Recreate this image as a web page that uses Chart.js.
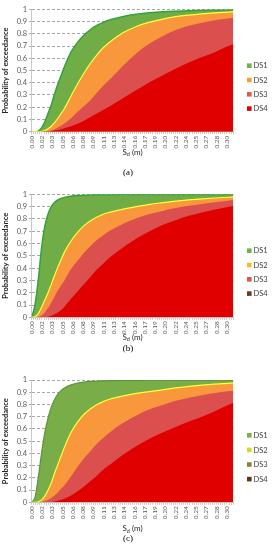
<!DOCTYPE html>
<html><head><meta charset="utf-8">
<script src="https://cdn.jsdelivr.net/npm/chart.js@4.4.1/dist/chart.umd.min.js"></script>
<style>
html,body{margin:0;padding:0;background:#fff;width:275px;height:550px;overflow:hidden;position:relative}
canvas{position:absolute;left:0}
</style></head><body>
<canvas id="ca" width="275" height="185" style="top:0px;width:275px;height:185px"></canvas>
<canvas id="cb" width="275" height="180" style="top:185px;width:275px;height:180px"></canvas>
<canvas id="cc" width="275" height="185" style="top:365px;width:275px;height:185px"></canvas>
<script>
// ---- data ----
const sd = [0, 0.005, 0.01, 0.015, 0.02, 0.025, 0.03, 0.035, 0.04, 0.045, 0.05, 0.06, 0.07, 0.08, 0.09, 0.10, 0.11, 0.12, 0.14, 0.16, 0.18, 0.20, 0.22, 0.24, 0.26, 0.28, 0.30, 0.308];
const dsNames = ['DS1', 'DS2', 'DS3', 'DS4'];
const xTickLabels = ['0.00','0.02','0.03','0.05','0.06','0.08','0.09','0.11','0.13','0.14','0.16','0.17','0.19','0.20','0.22','0.24','0.25','0.27','0.28','0.30'];
const xTickStep = 0.0157;
const yTickLabels = ['0','0.1','0.2','0.3','0.4','0.5','0.6','0.7','0.8','0.9','1'];

const a_DS1 = [0, 0, 0.005, 0.03, 0.08, 0.15, 0.22, 0.31, 0.39, 0.46, 0.53, 0.65, 0.73, 0.79, 0.835, 0.87, 0.895, 0.915, 0.942, 0.96, 0.972, 0.98, 0.985, 0.989, 0.992, 0.994, 0.995, 0.996];
const a_DS2 = [0, 0, 0, 0.003, 0.01, 0.025, 0.045, 0.075, 0.11, 0.15, 0.19, 0.29, 0.39, 0.48, 0.56, 0.63, 0.69, 0.735, 0.81, 0.86, 0.895, 0.92, 0.94, 0.953, 0.963, 0.971, 0.977, 0.979];
const a_DS3 = [0, 0, 0, 0.001, 0.002, 0.004, 0.01, 0.02, 0.035, 0.05, 0.068, 0.11, 0.16, 0.21, 0.26, 0.32, 0.38, 0.43, 0.54, 0.64, 0.72, 0.78, 0.83, 0.865, 0.89, 0.91, 0.925, 0.93];
const a_DS4 = [0, 0, 0, 0, 0.001, 0.003, 0.006, 0.01, 0.014, 0.02, 0.028, 0.045, 0.065, 0.09, 0.12, 0.15, 0.18, 0.21, 0.275, 0.34, 0.405, 0.46, 0.515, 0.565, 0.61, 0.65, 0.7, 0.715];

const b_DS1 = [0, 0.1, 0.3, 0.56, 0.74, 0.84, 0.9, 0.935, 0.955, 0.967, 0.975, 0.985, 0.99, 0.993, 0.995, 0.996, 0.997, 0.997, 0.998, 0.998, 0.999, 0.999, 0.999, 0.999, 0.999, 0.999, 0.999, 0.999];
const b_DS2 = [0, 0.005, 0.03, 0.08, 0.14, 0.2, 0.27, 0.34, 0.41, 0.47, 0.53, 0.62, 0.69, 0.745, 0.785, 0.815, 0.84, 0.855, 0.88, 0.9, 0.918, 0.932, 0.945, 0.955, 0.963, 0.97, 0.976, 0.978];
const b_DS3 = [0, 0, 0.005, 0.015, 0.04, 0.075, 0.12, 0.17, 0.22, 0.26, 0.3, 0.39, 0.46, 0.525, 0.58, 0.63, 0.67, 0.705, 0.76, 0.805, 0.84, 0.865, 0.888, 0.906, 0.922, 0.936, 0.948, 0.953];
const b_DS4 = [0, 0, 0, 0, 0.002, 0.005, 0.012, 0.025, 0.04, 0.06, 0.085, 0.15, 0.21, 0.27, 0.33, 0.39, 0.44, 0.49, 0.57, 0.64, 0.7, 0.75, 0.79, 0.825, 0.853, 0.877, 0.897, 0.905];

const c_DS1 = [0, 0.04, 0.2, 0.4, 0.57, 0.69, 0.78, 0.84, 0.885, 0.915, 0.935, 0.96, 0.975, 0.983, 0.988, 0.991, 0.993, 0.995, 0.996, 0.997, 0.998, 0.998, 0.999, 0.999, 0.999, 0.999, 0.999, 0.999];
const c_DS2 = [0, 0, 0.005, 0.02, 0.05, 0.1, 0.16, 0.24, 0.31, 0.38, 0.45, 0.57, 0.655, 0.72, 0.765, 0.8, 0.825, 0.845, 0.87, 0.89, 0.905, 0.92, 0.935, 0.948, 0.958, 0.966, 0.973, 0.975];
const c_DS3 = [0, 0, 0, 0.003, 0.01, 0.02, 0.035, 0.055, 0.08, 0.11, 0.14, 0.21, 0.29, 0.36, 0.42, 0.48, 0.53, 0.575, 0.65, 0.71, 0.76, 0.795, 0.83, 0.855, 0.875, 0.893, 0.908, 0.912];
const c_DS4 = [0, 0, 0, 0, 0, 0, 0.003, 0.007, 0.012, 0.02, 0.03, 0.055, 0.09, 0.13, 0.175, 0.22, 0.27, 0.31, 0.39, 0.46, 0.52, 0.57, 0.615, 0.66, 0.7, 0.745, 0.795, 0.815];

// ---- drawing ----
const FONT = 'Lato, "Open Sans", "Liberation Sans", sans-serif';
Chart.defaults.font.family = FONT;

const minorTicks = [];
for (let k = 0; k * xTickStep / 5 <= 0.3078; k++) minorTicks.push(k * xTickStep / 5);

const deco = {
  id: 'deco',
  afterDraw(chart, args, o) {
    const ctx = chart.ctx, ca = chart.chartArea;
    ctx.save();
    ctx.textBaseline = 'middle';
    ctx.fillStyle = '#262626';
    const f1 = '8px ' + FONT, f2 = '5.5px ' + FONT;
    ctx.font = f1; const wS = ctx.measureText('S').width, wR = ctx.measureText(' (m)').width;
    ctx.font = f2; const wd = ctx.measureText('d').width;
    let x = (ca.left + ca.right) / 2 - (wS + wd + wR) / 2;
    ctx.textAlign = 'left';
    ctx.font = f1; ctx.fillText('S', x, o.titleY); x += wS;
    ctx.font = f2; ctx.fillText('d', x, o.titleY + 2); x += wd;
    ctx.font = f1; ctx.fillText(' (m)', x, o.titleY);
    ctx.font = '9px "Liberation Serif", serif'; ctx.textAlign = 'center'; ctx.fillStyle = '#000';
    ctx.fillText(o.panel, 128, o.panelY);
    ctx.font = '7.5px ' + FONT; ctx.textAlign = 'left';
    chart.data.datasets.forEach((d, i) => {
      const y = o.legY0 + i * o.legDY;
      ctx.fillStyle = o.legColors[i];
      ctx.fillRect(247, y - 2.3, 4.6, 4.6);
      ctx.fillStyle = '#404040';
      ctx.fillText(d.label, 253.5, y + 0.3);
    });
    ctx.restore();
  }
};

function makeChart(id, series, L) {
  const canvas = document.getElementById(id);
  const H = canvas.height;
  const fills = L.fills, borders = L.borders, widths = L.bw;
  const datasets = series.map((s, i) => ({
    label: dsNames[i],
    data: sd.map((x, j) => ({ x: x, y: s[j] })),
    fill: 'origin',
    backgroundColor: fills[i],
    borderColor: borders[i],
    borderWidth: widths[i],
    pointRadius: 0,
    cubicInterpolationMode: 'monotone',
    order: 4 - i
  }));
  new Chart(canvas, {
    type: 'line',
    data: { datasets },
    options: {
      responsive: false, animation: false, devicePixelRatio: 1,
      layout: { padding: { top: L.top, right: 41.7, left: 0, bottom: 0 } },
      plugins: { legend: { display: false }, tooltip: { enabled: false }, deco: L },
      scales: {
        x: {
          type: 'linear', min: 0, max: 0.308,
          afterBuildTicks: s => { s.ticks = minorTicks.map(v => ({ value: v })); },
          afterFit: s => { s.height = H - L.bottom; s.paddingLeft = 0; s.paddingRight = 0; },
          ticks: {
            autoSkip: false, minRotation: 90, maxRotation: 90, padding: 1.5,
            font: { size: 6.5 }, color: '#595959',
            callback: (v, i) => (i % 5 === 0 ? (xTickLabels[i / 5] || '') : '')
          },
          grid: { drawOnChartArea: false, drawTicks: true, tickLength: 2.5, color: '#c8c8c8' },
          border: { display: true, color: '#c8c8c8' }
        },
        y: {
          min: 0, max: 1,
          afterFit: s => { s.width = 31.7; s.paddingTop = 0; s.paddingBottom = 0; },
          ticks: { stepSize: 0.1, font: { size: 7.5 }, color: '#595959', padding: 2,
            callback: (v, i) => yTickLabels[i] },
          grid: { color: '#a6a6a6', tickLength: 2.5, tickBorderDash: [] },
          border: { display: true, color: '#c8c8c8', dash: [3, 2] },
          title: { display: true, text: 'Probability of exceedance', color: '#262626',
            font: { size: 7.5, weight: 'bold' }, padding: { top: 1.5, bottom: 0 } }
        }
      }
    },
    plugins: [deco]
  });
}

makeChart('ca', [a_DS1, a_DS2, a_DS3, a_DS4], {
  top: 9.3, bottom: 131.7, titleY: 152, panel: '(a)', panelY: 173,
  legY0: 65.7, legDY: 14.3,
  fills: ['#70ad47', '#f8973c', '#db4f4f', '#e00000'],
  borders: ['#34a23a', '#ffff3a', 'rgba(0,0,0,0)', 'rgba(0,0,0,0)'],
  bw: [1.5, 1.2, 0, 0],
  legColors: ['#6db446', '#f9a032', '#e0584f', '#e00000']
});
makeChart('cb', [b_DS1, b_DS2, b_DS3, b_DS4], {
  top: 9.3, bottom: 132.3, titleY: 152.5, panel: '(b)', panelY: 163.2,
  legY0: 65.7, legDY: 14.3,
  fills: ['#70ad47', '#f8973c', '#db4f4f', '#e00000'],
  borders: ['#34a23a', '#ffff3a', 'rgba(0,0,0,0)', 'rgba(0,0,0,0)'],
  bw: [1.5, 1.2, 0, 0],
  legColors: ['#6db446', '#fbb827', '#e0544f', '#6e3a1c']
});
makeChart('cc', [c_DS1, c_DS2, c_DS3, c_DS4], {
  top: 15, bottom: 137.3, titleY: 163.8, panel: '(c)', panelY: 173.8,
  legY0: 70.3, legDY: 14.6,
  fills: ['#78ad48', '#f8973c', '#db4f4f', '#e00000'],
  borders: ['#5e9438', '#ffff3a', 'rgba(0,0,0,0)', 'rgba(0,0,0,0)'],
  bw: [1.2, 1.2, 0, 0],
  legColors: ['#7ab446', '#d8d82c', '#8f8038', '#5c3416']
});
</script>
</body></html>
